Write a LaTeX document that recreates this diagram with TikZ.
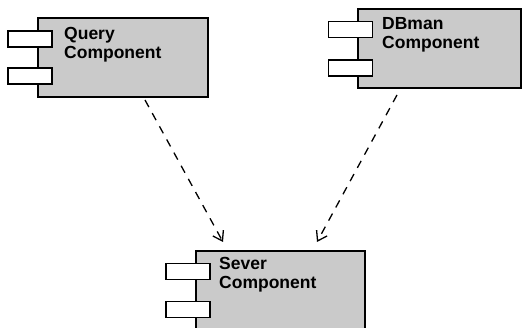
\documentclass[tikz,border=0pt]{standalone}
\usepackage{fontspec}
\setmainfont{Liberation Sans}
\usetikzlibrary{arrows.meta}
\definecolor{boxgray}{RGB}{202,202,202}
\tikzset{
  comp/.style={draw=black, line width=1.6pt, fill=boxgray, rectangle, inner sep=0pt},
  tab/.style={draw=black, line width=1.3pt, fill=white, rectangle, inner sep=0pt, minimum width=44pt, minimum height=16pt},
  lbl/.style={anchor=north west, align=left, inner sep=0pt, font=\bfseries\fontsize{17.5}{19}\selectfont},
  dep/.style={draw=black, line width=1.3pt, dash pattern=on 8pt off 7pt, -{Straight Barb[length=9pt,width=12pt,line width=1.3pt]}}
}
\begin{document}
\begin{tikzpicture}[x=1pt,y=-1pt]
\useasboundingbox (0,0) rectangle (523,328);
\clip (0,0) rectangle (523,328);
% Query component
\node[comp, minimum width=170pt, minimum height=79pt] (q) at (123,57.5) {};
\node[tab] (q1) at (30,39) {};
\node[tab] (q2) at (30,76) {};
\node[lbl] (qt) at (64,27) {Query\\Component};
% DBman component
\node[comp, minimum width=163pt, minimum height=79pt] (d) at (439.5,48.5) {};
\node[tab] (d1) at (350.5,29.5) {};
\node[tab] (d2) at (350.5,68) {};
\node[lbl] (dt) at (382,17) {DBman\\Component};
% Sever component
\node[comp, minimum width=169pt, minimum height=100pt] (s) at (280.5,301) {};
\node[tab] (s1) at (188,271.5) {};
\node[tab] (s2) at (188,309.5) {};
\node[lbl] (st) at (219,257) {Sever\\Component};
% connectors
\coordinate (qa) at (145,100);
\coordinate (sa) at (223,242);
\coordinate (da) at (397,95);
\coordinate (sb) at (317,242);
\draw[dep] (qa) -- (sa);
\draw[dep] (da) -- (sb);
\end{tikzpicture}
\end{document}
